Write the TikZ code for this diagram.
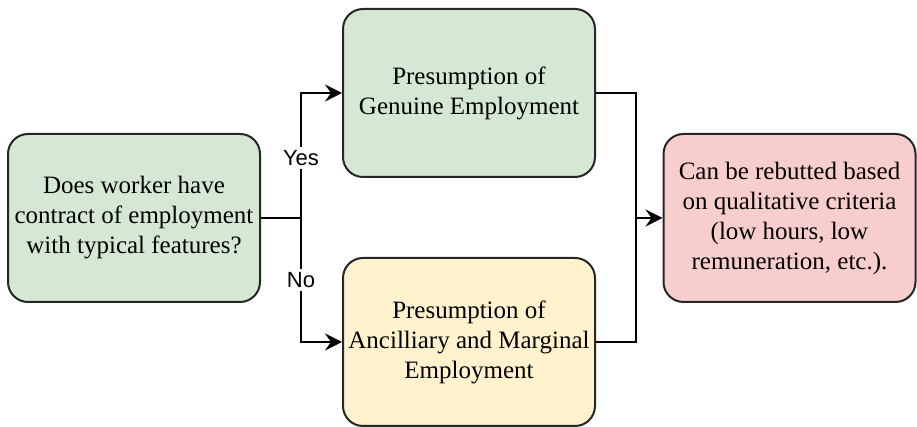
\documentclass[tikz,border=0pt]{standalone}
\usepackage{fontspec}
\setmainfont{Liberation Serif}
\setsansfont{Liberation Sans}
\usetikzlibrary{arrows.meta}

\definecolor{boxgreen}{HTML}{D5E8D4}
\definecolor{boxyellow}{HTML}{FFF2CC}
\definecolor{boxred}{HTML}{F8CECC}

\begin{document}
\begin{tikzpicture}
      [%%%%%%%%%%%%%%%%%%%%%%%%%%%%%%
          x=0.5pt, y=0.5pt,
          box/.style={rectangle,rounded corners=10pt,draw=black!85,line width=1pt,
                      minimum width=126pt,minimum height=84pt,align=center,
                      inner xsep=1pt,font=\fontsize{12.5}{15}\selectfont},
          link/.style={line width=1pt,line join=miter},
          arr/.style={link,-{Stealth[length=8.5pt,width=8.5pt,inset=3pt]}},
          lbl/.style={fill=white,inner sep=1.5pt,font=\sffamily\fontsize{11}{13}\selectfont}
      ]%%%%%%%%%%%%%%%%%%%%%%%%%%%%%%

  \useasboundingbox (0,0) rectangle (917,427);

  \node[box,fill=boxgreen] (question) at (134,209)
      {Does worker have\\contract of employment\\with typical features?};
  \node[box,fill=boxgreen] (genuine) at (469,334)
      {Presumption of\\Genuine Employment};
  \node[box,fill=boxyellow] (marginal) at (469,85)
      {Presumption of\\Ancilliary and Marginal\\Employment};
  \node[box,fill=boxred] (rebut) at (789.5,209)
      {Can be rebutted based\\on qualitative criteria\\(low hours, low\\remuneration, etc.).};

  \coordinate (split) at (301,209);
  \coordinate (join) at (636,209);

  \draw[link] (question.east) -- (split);
  \draw[arr] (split) |- node[lbl,pos=0.24] (yes) {Yes} (genuine.west);
  \draw[arr] (split) |- node[lbl,pos=0.25] (no) {No} (marginal.west);

  \draw[link] (genuine.east) -| (join);
  \draw[link] (marginal.east) -| (join);
  \draw[arr] (join) -- (rebut.west);

  \end{tikzpicture}
\end{document}
